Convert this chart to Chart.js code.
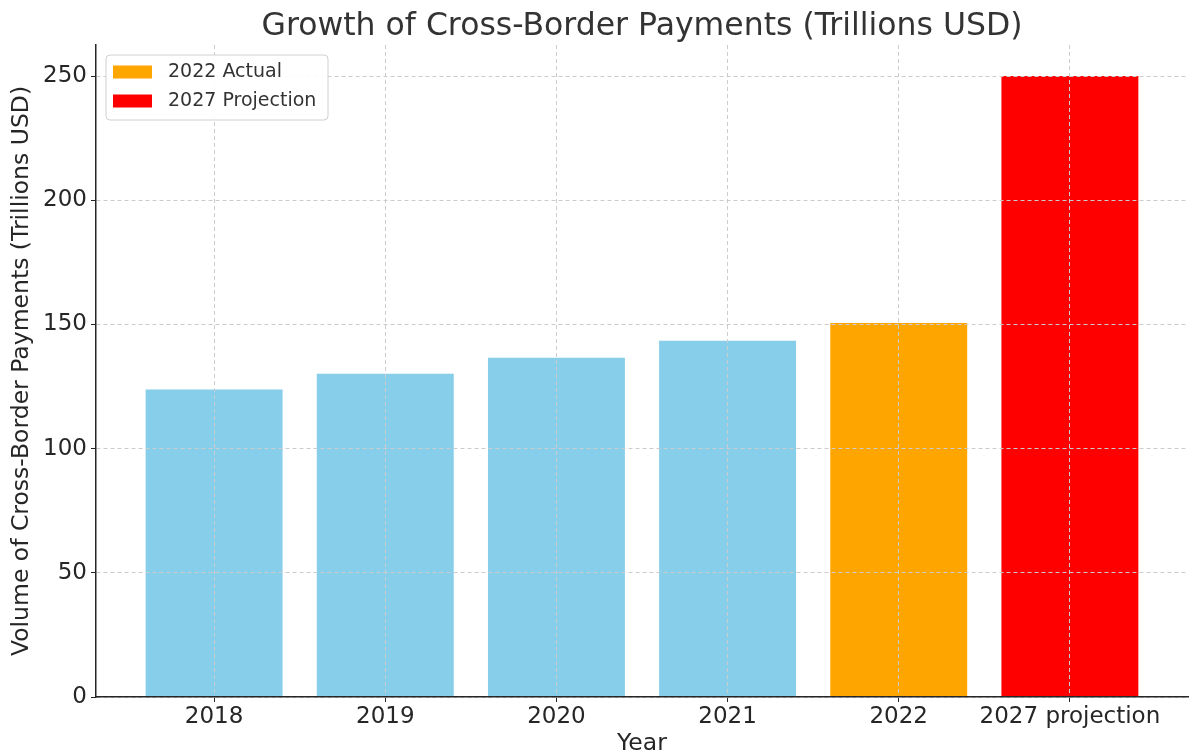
<!DOCTYPE html>
<html>
<head>
<meta charset="utf-8">
<script src="https://cdn.jsdelivr.net/npm/chart.js@4"></script>
<style>
  body { margin: 0; background: #fff; }
</style>
</head>
<body>
<canvas id="grafico" width="1193" height="756"></canvas>
<script>
// datos
const years = ['2018', '2019', '2020', '2021', '2022', '2027 projection'];
const volumes = [123.8, 130.1, 136.6, 143.4, 150.6, 250];
const barColors = ['#87CEEB', '#87CEEB', '#87CEEB', '#87CEEB', '#FFA500', '#FF0000'];
const yTicks = [0, 50, 100, 150, 200, 250];
const legendLabels = ['2022 Actual', '2027 Projection'];
const legendColors = ['#FFA500', '#FF0000'];
const chartTitle = 'Growth of Cross-Border Payments (Trillions USD)';

const fontFam = "'DejaVu Sans', sans-serif";

// titulo centrado sobre el area del grafico y leyenda dentro (como matplotlib)
const extras = {
  id: 'extras',
  afterDraw(chart) {
    const ctx = chart.ctx;
    const ca = chart.chartArea;
    ctx.save();
    ctx.font = '31.5px ' + fontFam;
    ctx.fillStyle = '#333';
    ctx.textAlign = 'center';
    ctx.textBaseline = 'alphabetic';
    ctx.fillText(chartTitle, (ca.left + ca.right) / 2, 35);

    const x = ca.left + 10, y = ca.top + 10, w = 222, h = 65;
    ctx.beginPath();
    ctx.roundRect(x, y, w, h, 4);
    ctx.fillStyle = 'rgba(255,255,255,0.9)';
    ctx.fill();
    ctx.strokeStyle = '#d0d0d0';
    ctx.lineWidth = 1;
    ctx.stroke();
    ctx.font = '19px ' + fontFam;
    ctx.textAlign = 'left';
    ctx.textBaseline = 'middle';
    legendLabels.forEach((lab, i) => {
      const cy = y + 17 + i * 29;
      ctx.fillStyle = legendColors[i];
      ctx.fillRect(x + 7, cy - 6.5, 39, 13);
      ctx.fillStyle = '#333';
      ctx.fillText(lab, x + 62, cy);
    });
    ctx.restore();
  }
};

const data = {
  datasets: [{
    label: 'Volume',
    data: years.map((y, i) => ({ x: i, y: volumes[i] })),
    backgroundColor: barColors,
    borderWidth: 0,
    barPercentage: 0.8,
    categoryPercentage: 1.0
  }]
};

const gridOpts = {
  z: 1,
  color: '#cccccc',
  lineWidth: 1,
  tickLength: 5,
  tickColor: '#262626',
  tickBorderDash: []
};

const options = {
  responsive: false,
  animation: false,
  layout: { padding: { left: 0, right: 5, top: 45, bottom: 0 } },
  plugins: {
    legend: { display: false },
    tooltip: { enabled: false },
    title: { display: false }
  },
  scales: {
    x: {
      type: 'linear',
      min: -0.69,
      max: 5.69,
      offset: false,
      afterBuildTicks: (scale) => {
        scale.ticks = years.map((y, i) => ({ value: i }));
      },
      afterFit: (scale) => { scale.height = 59; },
      ticks: {
        autoSkip: false,
        maxRotation: 0,
        minRotation: 0,
        padding: 1,
        color: '#262626',
        font: { family: fontFam, size: 23 },
        callback: (v) => years[v]
      },
      grid: Object.assign({ offset: false }, gridOpts),
      border: { display: true, color: '#262626', width: 1.5, z: 2, dash: [4, 3] },
      title: {
        display: true,
        text: 'Year',
        color: '#262626',
        font: { family: fontFam, size: 23.5, lineHeight: 1.0 },
        padding: { top: 0, bottom: 0 }
      }
    },
    y: {
      min: 0,
      max: 262.5,
      afterBuildTicks: (scale) => {
        scale.ticks = yTicks.map(v => ({ value: v }));
      },
      afterFit: (scale) => { scale.width = 96; },
      ticks: {
        padding: 4,
        color: '#262626',
        font: { family: fontFam, size: 23 }
      },
      grid: Object.assign({}, gridOpts),
      border: { display: true, color: '#262626', width: 1.5, z: 2, dash: [4, 3] },
      title: {
        display: true,
        text: 'Volume of Cross-Border Payments (Trillions USD)',
        color: '#262626',
        font: { family: fontFam, size: 23.5, lineHeight: 1.0 },
        padding: { top: 10, bottom: 0 }
      }
    }
  }
};

const ctx = document.getElementById('grafico').getContext('2d');
const myBarChart = new Chart(ctx, {
  type: 'bar',
  data: data,
  options: options,
  plugins: [extras]
});
</script>
</body>
</html>
